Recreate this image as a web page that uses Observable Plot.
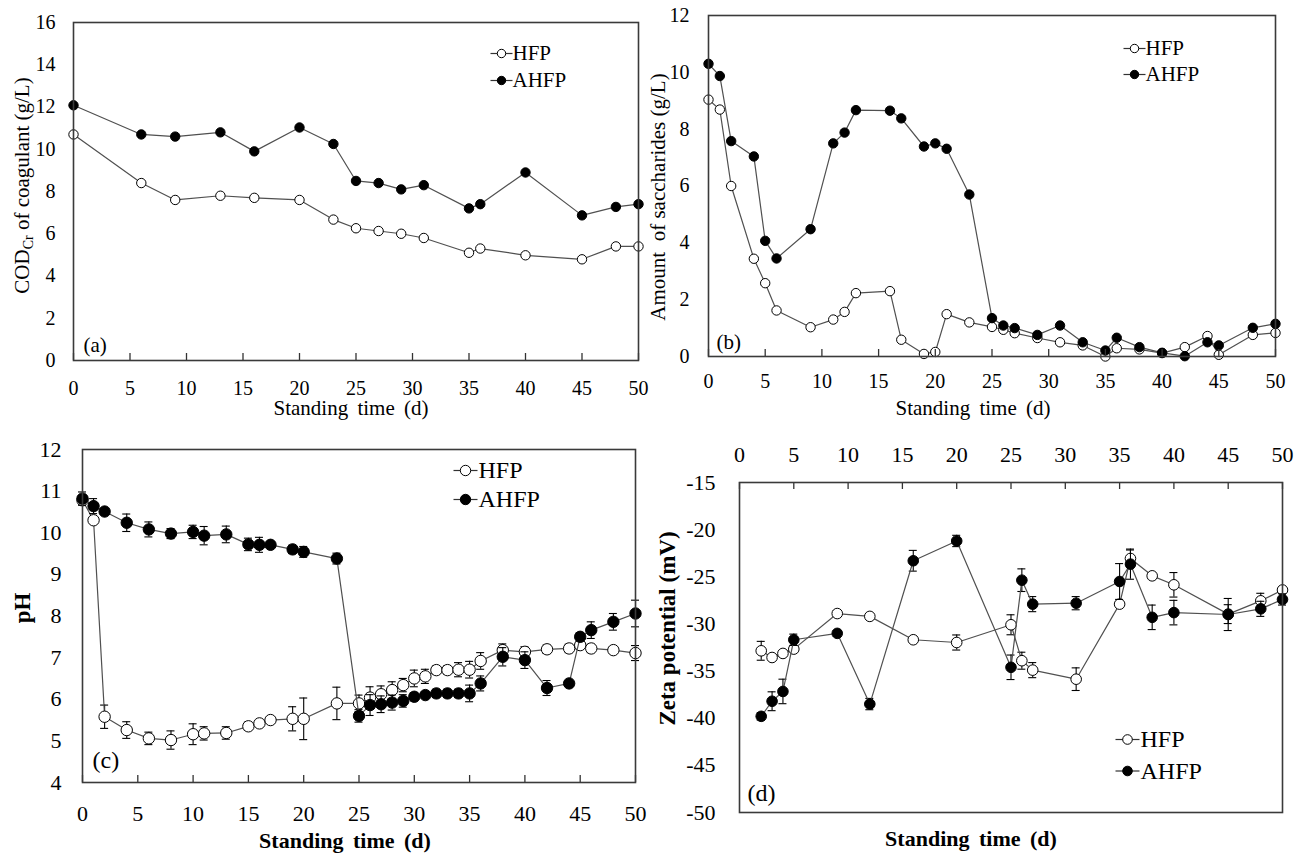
<!DOCTYPE html>
<html>
<head>
<meta charset="utf-8">
<script src="https://cdn.jsdelivr.net/npm/d3@7"></script>
<script src="https://cdn.jsdelivr.net/npm/@observablehq/plot@0.6"></script>
<style>
  body { margin: 0; background: #fff; }
  #wrap { position: relative; width: 1305px; height: 853px; overflow: hidden; background: #fff; }
  #wrap > svg, #wrap > figure { position: absolute; margin: 0; }
</style>
</head>
<body>
<div id="wrap"></div>
<script>
// ---------- shared ----------
const seriesNames = ["HFP", "AHFP"];
const xTicks = [0, 5, 10, 15, 20, 25, 30, 35, 40, 45, 50];
const xLabel = "Standing time (d)";

// ---------- (a) COD ----------
const codLabel = "CODCr of coagulant (g/L)";
const codYTicks = [0, 2, 4, 6, 8, 10, 12, 14, 16];
const codDays = [0, 6, 9, 13, 16, 20, 23, 25, 27, 29, 31, 35, 36, 40, 45, 48, 50];
const codHFP  = [10.7, 8.4, 7.6, 7.8, 7.7, 7.6, 6.67, 6.26, 6.13, 6.0, 5.8, 5.1, 5.3, 4.98, 4.79, 5.4, 5.4];
const codAHFP = [12.08, 10.7, 10.6, 10.8, 9.9, 11.03, 10.25, 8.5, 8.4, 8.1, 8.3, 7.2, 7.4, 8.9, 6.87, 7.27, 7.4];

// ---------- (b) saccharides ----------
const sacLabel = "Amount  of saccharides (g/L)";
const sacYTicks = [0, 2, 4, 6, 8, 10, 12];
const sacDays = [0, 1, 2, 4, 5, 6, 9, 11, 12, 13, 16, 17, 19, 20, 21, 23, 25, 26, 27, 29, 31, 33, 35, 36, 38, 40, 42, 44, 45, 48, 50];
const sacHFP  = [9.04, 8.69, 6.0, 3.44, 2.58, 1.62, 1.03, 1.30, 1.57, 2.23, 2.30, 0.59, 0.09, 0.16, 1.49, 1.2, 1.04, 0.94, 0.82, 0.65, 0.5, 0.39, 0.0, 0.29, 0.25, 0.12, 0.33, 0.72, 0.06, 0.76, 0.83];
const sacAHFP = [10.3, 9.87, 7.58, 7.04, 4.07, 3.45, 4.48, 7.5, 7.88, 8.67, 8.65, 8.38, 7.39, 7.5, 7.31, 5.7, 1.35, 1.09, 1.0, 0.76, 1.09, 0.5, 0.21, 0.66, 0.33, 0.13, 0.01, 0.5, 0.39, 1.01, 1.15];

// ---------- (c) pH ----------
const phLabel = "pH";
const phYTicks = [4, 5, 6, 7, 8, 9, 10, 11, 12];
const phDays = [0, 1, 2, 4, 6, 8, 10, 11, 13, 15, 16, 17, 19, 20, 23, 25, 26, 27, 28, 29, 30, 31, 32, 33, 34, 35, 36, 38, 40, 42, 44, 45, 46, 48, 50];
const phHFP     = [10.78, 10.30, 5.58, 5.26, 5.06, 5.02, 5.16, 5.18, 5.19, 5.35, 5.42, 5.50, 5.53, 5.53, 5.90, 5.9, 6.04, 6.12, 6.22, 6.34, 6.5, 6.55, 6.70, 6.70, 6.71, 6.71, 6.92, 7.18, 7.14, 7.2, 7.22, 7.3, 7.22, 7.18, 7.11];
const phHFPErr  = [0.1, 0.05, 0.28, 0.2, 0.15, 0.22, 0.25, 0.16, 0.15, 0.1, 0.05, 0.05, 0.29, 0.5, 0.39, 0.2, 0.26, 0.2, 0.2, 0.16, 0.2, 0.17, 0.1, 0.1, 0.17, 0.2, 0.2, 0.15, 0.12, 0.1, 0.1, 0.1, 0.1, 0.08, 0.18];
const phAHFP    = [10.82, 10.64, 10.51, 10.24, 10.08, 9.98, 10.02, 9.93, 9.96, 9.72, 9.71, 9.71, 9.6, 9.54, 9.38, 5.6, 5.86, 5.88, 5.92, 5.96, 6.06, 6.1, 6.14, 6.14, 6.14, 6.14, 6.38, 7.02, 6.94, 6.27, 6.38, 7.5, 7.66, 7.86, 8.06];
const phAHFPErr = [0.16, 0.18, 0.05, 0.21, 0.18, 0.12, 0.16, 0.22, 0.2, 0.15, 0.18, 0.05, 0.1, 0.13, 0.13, 0.15, 0.25, 0.2, 0.18, 0.15, 0.1, 0.05, 0.1, 0.1, 0.1, 0.2, 0.18, 0.22, 0.2, 0.18, 0.05, 0.1, 0.2, 0.2, 0.32];

// ---------- (d) zeta potential ----------
const zetaLabel = "Zeta potential (mV)";
const zetaYTicks = [-50, -45, -40, -35, -30, -25, -20, -15];
const zetaDays = [2, 3, 4, 5, 9, 12, 16, 20, 25, 26, 27, 31, 35, 36, 38, 40, 45, 48, 50];
const zetaHFP     = [-32.85, -33.56, -33.13, -32.67, -28.9, -29.2, -31.68, -31.97, -30.09, -33.9, -34.9, -35.86, -27.9, -23.06, -24.9, -25.85, -28.96, -27.55, -26.4];
const zetaHFPErr  = [1.0, 0.2, 0.2, 0.2, 0.3, 0.2, 0.2, 0.8, 1.06, 0.9, 0.8, 1.2, 0.2, 0.9, 0.3, 1.3, 1.0, 0.8, 0.3];
const zetaAHFP    = [-39.8, -38.2, -37.16, -31.68, -31.0, -38.5, -23.3, -21.2, -34.6, -25.36, -27.9, -27.8, -25.5, -23.66, -29.3, -28.8, -29.0, -28.4, -27.4];
const zetaAHFPErr = [0.4, 1.0, 1.3, 0.6, 0.3, 0.6, 1.1, 0.6, 1.3, 1.2, 0.8, 0.7, 1.9, 1.6, 1.3, 1.3, 1.7, 0.8, 0.6];

// ---------- drawing ----------
const FONT = "'Liberation Serif', 'Times New Roman', serif";
const lineSymbol = {
  draw(ctx, size) { const r = Math.sqrt(size / Math.PI); ctx.moveTo(-r, 0); ctx.lineTo(r, 0); }
};
function rows(days, vals, errs) {
  return days.map((d, i) => ({day: d, v: vals[i], e: errs ? errs[i] : 0}));
}

function panel(c) {
  const innerH = c.height - c.m.t - c.m.b;
  const sets = [rows(c.days, c.hfp, c.hfpErr), rows(c.days, c.ahfp, c.ahfpErr)];
  const fills = ["white", "black"];
  const marks = [];
  sets.forEach((S, k) => {
    if (c.hfpErr) {
      const eb = {stroke: "#000", strokeWidth: 1.1};
      marks.push(Plot.ruleX(S, {x: "day", y1: d => d.v - d.e, y2: d => d.v + d.e, ...eb}));
      marks.push(Plot.ruleY(S, {y: d => d.v + d.e, x1: "day", x2: "day", insetLeft: -4, insetRight: -4, ...eb}));
      marks.push(Plot.ruleY(S, {y: d => d.v - d.e, x1: "day", x2: "day", insetLeft: -4, insetRight: -4, ...eb}));
    }
    marks.push(Plot.line(S, {x: "day", y: "v", stroke: "#505050", strokeWidth: 1.2}));
    marks.push(Plot.dot(S, {x: "day", y: "v", r: c.r, fill: fills[k], stroke: "#000", strokeWidth: 1}));
  });
  // inward tick marks
  if (c.xAxis === "top") {
    marks.push(Plot.ruleX(xTicks, {x: d => d, insetBottom: innerH - 7, stroke: "#333", strokeWidth: 1.3}));
  } else {
    marks.push(Plot.ruleX(xTicks, {x: d => d, insetTop: innerH - 7, stroke: "#333", strokeWidth: 1.3}));
  }
  marks.push(Plot.frame({stroke: "#3a3a3a", strokeWidth: 1.6}));
  // legend
  seriesNames.forEach((name, k) => {
    const dy = c.leg.y + k * c.leg.gap;
    marks.push(Plot.dot([name], {frameAnchor: "top-left", dx: c.leg.x, dy, r: c.leg.half, symbol: lineSymbol, stroke: "#333", strokeWidth: 1.2}));
    marks.push(Plot.dot([name], {frameAnchor: "top-left", dx: c.leg.x, dy, r: c.r - 0.5, fill: fills[k], stroke: "#000", strokeWidth: 1}));
    marks.push(Plot.text([name], {frameAnchor: "top-left", dx: c.leg.tx, dy, text: d => d, textAnchor: "start", lineAnchor: "middle", fontSize: c.leg.fs, fill: "#000"}));
  });
  // panel letter
  marks.push(Plot.text([c.letter], {frameAnchor: "bottom-left", dx: c.let.dx, dy: c.let.dy, text: d => d, textAnchor: "start", lineAnchor: "middle", fontSize: c.let.fs, fill: "#000"}));
  // axis titles
  marks.push(Plot.text([xLabel], {frameAnchor: "bottom", dx: c.xl.dx, dy: c.xl.dy, text: d => d, textAnchor: "middle", lineAnchor: "middle", fontSize: c.xl.fs, fontWeight: c.bold ? "bold" : "normal", fill: "#000"}));
  marks.push(Plot.text([c.yLabel], {frameAnchor: "left", dx: c.yl.dx, dy: c.yl.dy, rotate: -90, text: d => d, textAnchor: "middle", lineAnchor: "middle", fontSize: c.yl.fs, fontWeight: c.bold ? "bold" : "normal", fill: "#000"}));

  const svg = Plot.plot({
    width: c.width, height: c.height,
    marginLeft: c.m.l, marginRight: c.m.r, marginTop: c.m.t, marginBottom: c.m.b,
    x: {domain: [0, 50], ticks: xTicks, tickSize: 0, tickPadding: c.xPad, tickFormat: d => String(d), label: null, axis: c.xAxis || "bottom"},
    y: {domain: [c.yTicks[0], c.yTicks[c.yTicks.length - 1]], ticks: c.yTicks, tickSize: 0, tickPadding: c.yPad, tickFormat: d => String(d), label: null},
    style: {fontFamily: FONT, fontSize: c.tickFs + "px", color: "#000", background: "transparent", overflow: "visible"},
    marks
  });
  svg.style.left = c.left + "px";
  svg.style.top = c.top + "px";
  d3.select(svg).selectAll("text").attr("word-spacing", function () {
    return this.textContent === xLabel ? "4" : null;
  });
  return svg;
}

const wrap = document.getElementById("wrap");

const A = panel({
  left: 0, top: 0, width: 660, height: 430, m: {l: 73, r: 22, t: 22, b: 70},
  days: codDays, hfp: codHFP, ahfp: codAHFP, yTicks: codYTicks, yLabel: codLabel,
  r: 4.7, tickFs: 20, xPad: 20, yPad: 18,
  leg: {x: 428, y: 31, gap: 27, half: 11, tx: 439, fs: 21},
  letter: "(a)", let: {dx: 10, dy: -15, fs: 21},
  xl: {dx: -5, dy: 48, fs: 21}, yl: {dx: -51, dy: -6, fs: 21}
});
wrap.appendChild(A);
// subscript "Cr" in COD label
d3.select(A).selectAll("text").filter(function () { return this.textContent === codLabel; })
  .each(function () {
    const t = d3.select(this);
    t.text(null);
    t.append("tspan").text("COD");
    t.append("tspan").attr("dy", 4).attr("font-size", 14).text("Cr");
    t.append("tspan").attr("dy", -4).text(" of coagulant (g/L)");
  });

wrap.appendChild(panel({
  left: 660, top: 0, width: 645, height: 430, m: {l: 48, r: 30, t: 15, b: 74},
  days: sacDays, hfp: sacHFP, ahfp: sacAHFP, yTicks: sacYTicks, yLabel: sacLabel,
  r: 4.7, tickFs: 20, xPad: 17, yPad: 19,
  leg: {x: 426, y: 33, gap: 26, half: 11, tx: 437, fs: 21},
  letter: "(b)", let: {dx: 8, dy: -14, fs: 21},
  xl: {dx: -19, dy: 52, fs: 21}, yl: {dx: -50, dy: 11, fs: 21}
}));

wrap.appendChild(panel({
  left: 0, top: 430, width: 660, height: 423, m: {l: 82, r: 25, t: 19, b: 71},
  days: phDays, hfp: phHFP, ahfp: phAHFP, hfpErr: phHFPErr, ahfpErr: phAHFPErr,
  yTicks: phYTicks, yLabel: phLabel, bold: true,
  r: 5.7, tickFs: 22, xPad: 23, yPad: 21,
  leg: {x: 383, y: 21, gap: 29, half: 12, tx: 396, fs: 24},
  letter: "(c)", let: {dx: 10, dy: -22, fs: 24},
  xl: {dx: -14, dy: 58, fs: 22}, yl: {dx: -60, dy: -8, fs: 23}
}));

wrap.appendChild(panel({
  left: 660, top: 430, width: 645, height: 423, m: {l: 79, r: 23, t: 52, b: 41},
  days: zetaDays, hfp: zetaHFP, ahfp: zetaAHFP, hfpErr: zetaHFPErr, ahfpErr: zetaAHFPErr,
  yTicks: zetaYTicks, yLabel: zetaLabel, bold: true, xAxis: "top",
  r: 5.3, tickFs: 22, xPad: 21, yPad: 24,
  leg: {x: 388, y: 257, gap: 31.5, half: 12, tx: 401, fs: 24},
  letter: "(d)", let: {dx: 8, dy: -19, fs: 24},
  xl: {dx: -40, dy: 26, fs: 22}, yl: {dx: -72, dy: -19, fs: 23}
}));
</script>
</body>
</html>
